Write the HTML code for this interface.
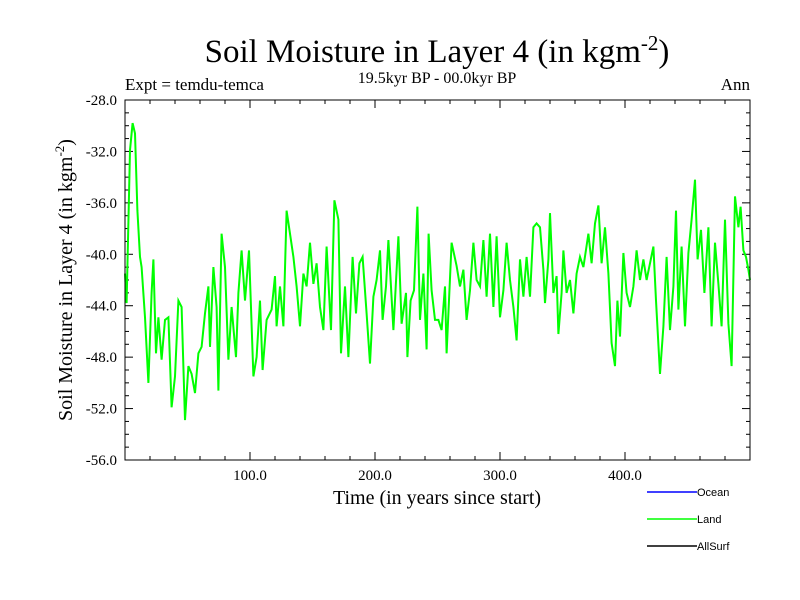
<!DOCTYPE html>
<html><head><meta charset="utf-8"><style>
body{margin:0;background:#fff}
svg{display:block}
text{font-family:"Liberation Serif",serif;fill:#000}
</style></head><body>
<svg id="c" width="800" height="600">
<text x="437" y="62" font-size="33" text-anchor="middle">Soil Moisture in Layer 4 (in kgm<tspan dy="-12" font-size="21">-2</tspan><tspan dy="12">)</tspan></text>
<text x="437" y="83" font-size="16" text-anchor="middle">19.5kyr BP - 00.0kyr BP</text>
<text x="125" y="90" font-size="17">Expt = temdu-temca</text>
<text x="750" y="90" font-size="17" text-anchor="end">Ann</text>
<text x="437" y="504" font-size="20" text-anchor="middle">Time (in years since start)</text>
<text transform="translate(72,280) rotate(-90)" font-size="20" text-anchor="middle">Soil Moisture in Layer 4 (in kgm<tspan dy="-8" font-size="13">-2</tspan><tspan dy="8">)</tspan></text>
<g id="ticks"></g>
<polyline id="land" fill="none" stroke="#00ff00" stroke-width="2"/>
<rect x="125" y="100" width="625" height="360" fill="none" stroke="#000" stroke-width="1"/>
<g>
<line x1="647" y1="492" x2="697" y2="492" stroke="#0000ff" stroke-width="1.5"/>
<text x="697" y="496" font-size="11" style="font-family:'Liberation Sans',sans-serif">Ocean</text>
<line x1="647" y1="519" x2="697" y2="519" stroke="#00ff00" stroke-width="1.5"/>
<text x="697" y="523" font-size="11" style="font-family:'Liberation Sans',sans-serif">Land</text>
<line x1="647" y1="546" x2="697" y2="546" stroke="#000" stroke-width="1.5"/>
<text x="697" y="550" font-size="11" style="font-family:'Liberation Sans',sans-serif">AllSurf</text>
</g>
</svg>
<script>
const years=[0,1.3,4,6.1,8,9.9,12,13.3,16,18.7,21.3,22.7,24.8,26.7,29.3,32,34.7,37.3,40,42.7,45.3,48,50.7,53.3,56,58.7,61.3,64,66.7,68,70.7,73.3,74.7,77.3,80,82.7,85.3,88.8,90.7,93.3,96,99.2,102.7,105.3,108,110.1,113.3,117.3,120,121.3,124,126.7,129.3,132,134.7,137.3,140,142.7,145.3,148,150.7,153.3,156,158.7,161.3,164.8,167.5,170.7,172.8,176,178.7,182.1,184.8,187.5,190.1,193.3,196,198.7,201.3,204,206.1,208.8,210.7,214.7,218.7,221.3,224.8,225.9,228.5,231.2,233.9,236,238.7,241.3,242.9,245.3,248,250.7,253.3,256,257.3,261.3,265.3,268,270.7,273.3,276,278.7,281.3,284,286.7,289.3,292,294.7,297.3,300,302.7,305.3,308,310.7,313.3,316,318.7,321.3,324,326.7,329.3,332,334.7,336,338.7,340,342.7,345.3,346.7,349.3,350.7,353.3,356,358.7,361.3,364,366.7,370.7,373.3,376,378.7,381.3,384,386.7,389.3,392,393.9,396,398.7,401.3,404,406.7,409.3,412,414.7,417.3,420,422.7,424.8,428,430.7,433.3,436,438.7,440.8,442.7,445.3,448,450.7,453.3,456,458.1,460.8,463.5,466.7,469.3,472,474.7,477.3,480,482.7,485.3,488,490.7,492.5,494.7,496.8,498.7,500];
const land=[-41.5,-43.8,-31.9,-29.8,-30.6,-36.6,-40.2,-41.0,-44.9,-50.0,-43.0,-40.4,-47.7,-44.9,-48.2,-45.1,-44.9,-51.9,-49.5,-43.6,-44.1,-52.9,-48.7,-49.3,-50.8,-47.7,-47.2,-44.6,-42.5,-47.2,-41.0,-44.1,-50.6,-38.4,-41.0,-48.2,-44.1,-48.0,-43.0,-39.7,-43.6,-39.7,-49.5,-48.0,-43.6,-49.0,-45.1,-44.3,-41.7,-45.6,-42.5,-45.6,-36.6,-38.4,-40.2,-42.5,-45.6,-41.5,-42.5,-39.1,-42.3,-40.7,-44.1,-45.9,-39.4,-45.9,-35.8,-37.3,-47.7,-42.5,-48.0,-40.2,-44.6,-40.7,-40.2,-44.6,-48.5,-43.3,-42.0,-39.7,-45.1,-42.5,-38.9,-45.9,-38.6,-45.4,-43.0,-48.0,-43.6,-42.8,-36.3,-45.1,-41.5,-47.4,-38.4,-42.8,-45.1,-45.1,-45.9,-42.5,-47.7,-39.1,-40.9,-42.5,-41.2,-45.1,-42.8,-39.1,-42.0,-42.5,-38.9,-43.3,-38.4,-44.1,-38.6,-44.9,-42.8,-39.1,-42.0,-44.1,-46.7,-40.4,-43.3,-40.2,-43.3,-37.9,-37.6,-37.9,-41.2,-43.8,-40.4,-36.8,-43.0,-41.7,-46.2,-43.0,-39.7,-43.0,-42.0,-44.6,-41.5,-40.2,-41.0,-38.4,-40.7,-37.6,-36.2,-40.7,-37.9,-41.5,-46.9,-48.7,-43.6,-46.4,-39.9,-43.0,-44.1,-42.5,-39.7,-42.0,-40.4,-42.0,-40.7,-39.4,-43.6,-49.3,-45.6,-40.2,-45.9,-42.5,-36.6,-44.3,-39.4,-45.6,-39.9,-37.3,-34.2,-40.4,-38.1,-43.0,-37.9,-45.6,-39.1,-42.3,-45.6,-37.3,-45.4,-48.7,-35.5,-37.9,-36.3,-39.7,-40.2,-41.2,-42.0];
const yTicks=[-28,-32,-36,-40,-44,-48,-52,-56];
const xTicks=[100,200,300,400];
const X0=125,X1=750,Y0=100,Y1=460;
const xs=t=>X0+(t-0)/(500-0)*(X1-X0);
const ys=v=>Y0+(-28-v)/(28)*(Y1-Y0);
const NS="http://www.w3.org/2000/svg";
document.getElementById('land').setAttribute('points',years.map((t,i)=>xs(t).toFixed(1)+','+ys(land[i]).toFixed(1)).join(' '));
const g=document.getElementById('ticks');
function ln(x1,y1,x2,y2){const l=document.createElementNS(NS,'line');l.setAttribute('x1',x1);l.setAttribute('y1',y1);l.setAttribute('x2',x2);l.setAttribute('y2',y2);l.setAttribute('stroke','#000');l.setAttribute('stroke-width','1');


g.appendChild(l);}
for(let v=-28;v>=-56;v--){const y=ys(v);const L=(v%4===0)?8:4;ln(X0,y,X0+L,y);ln(X1,y,X1-L,y);}
for(let t=20;t<500;t+=20){const x=xs(t);const L=(t%100===0)?8:4;ln(x,Y1,x,Y1-L);ln(x,Y0,x,Y0+L);}
yTicks.forEach(v=>{const e=document.createElementNS(NS,'text');e.setAttribute('x',117);e.setAttribute('y',ys(v)+5);e.setAttribute('text-anchor','end');e.setAttribute('font-size','15');e.textContent=v.toFixed(1);


g.appendChild(e);});
xTicks.forEach(t=>{const e=document.createElementNS(NS,'text');e.setAttribute('x',xs(t));e.setAttribute('y',480);e.setAttribute('text-anchor','middle');e.setAttribute('font-size','15');e.textContent=t.toFixed(1);


g.appendChild(e);});
</script>
</body></html>
